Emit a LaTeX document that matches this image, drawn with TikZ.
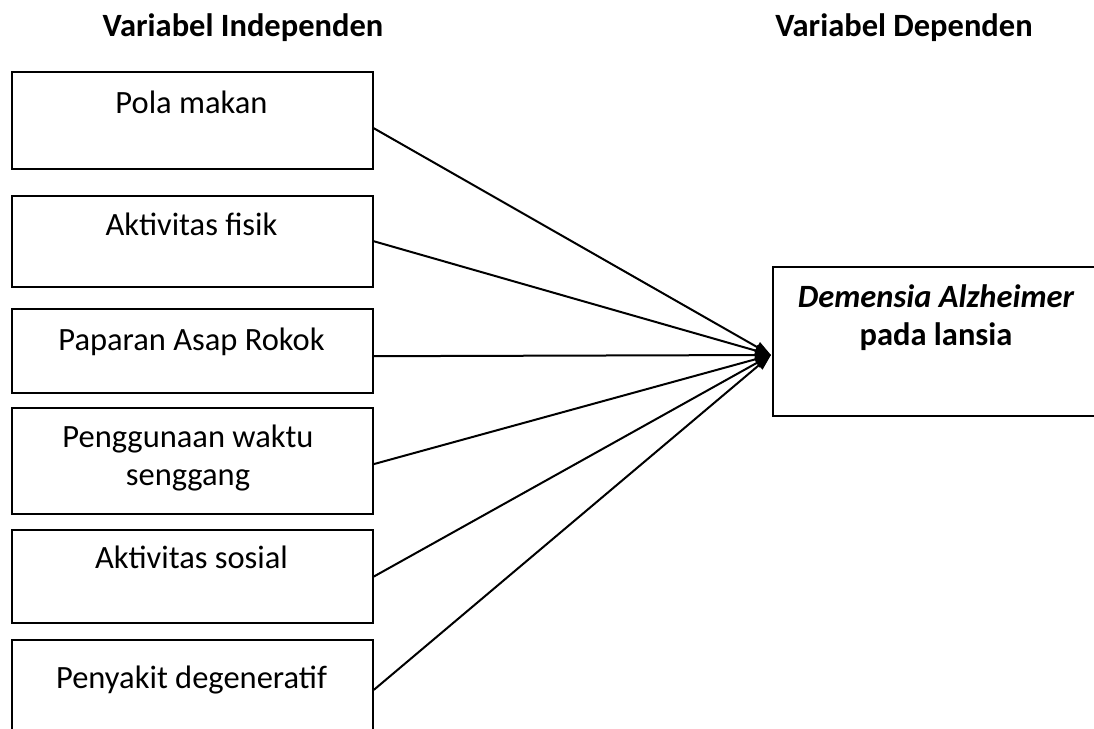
\documentclass[tikz,border=0pt]{standalone}
\usepackage{fontspec}
\setmainfont{Carlito}
\usetikzlibrary{arrows.meta}
\begin{document}
\begin{tikzpicture}[x=1bp,y=-1bp,
  box/.style={draw,line width=1.8bp,minimum width=361bp,inner sep=0pt,anchor=north west},
  lbl/.style={font=\fontsize{32.5bp}{38bp}\selectfont,anchor=base,align=center,inner sep=0pt},
  hdr/.style={lbl,font=\fontsize{32.5bp}{38bp}\selectfont\bfseries},
  conn/.style={line width=2bp,-{Triangle[length=16bp,width=11bp]}}]
\useasboundingbox (0,0) rectangle (1094,729);
\clip (0,0) rectangle (1094,729);
% headers
\node[hdr] (h1) at (243,36.7) {Variabel Independen};
\node[hdr] (h2) at (904,36.7) {Variabel Dependen};
% left boxes
\node[box,minimum height=96.7bp] (b1) at (11,71) {};
\node[box,minimum height=90.7bp] (b2) at (11,195) {};
\node[box,minimum height=84bp] (b3) at (11,308.3) {};
\node[box,minimum height=106bp] (b4) at (11,406.7) {};
\node[box,minimum height=93.3bp] (b5) at (11,529) {};
\node[box,minimum height=100bp] (b6) at (11,639) {};
% labels
\node[lbl] (t1) at (191.5,113.3) {Pola makan};
\node[lbl] (t2) at (191.5,235.7) {Aktivitas fisik};
\node[lbl] (t3) at (191.5,350) {Paparan Asap Rokok};
\node[lbl] (t4) at (188,485) {Penggunaan waktu\\senggang};
\node[lbl] (t5) at (191.5,568.3) {Aktivitas sosial};
\node[lbl] (t6) at (191.5,688.3) {Penyakit degeneratif};
% right box
\node[box,minimum width=321.5bp,minimum height=149.3bp] (r) at (772,265.7) {};
\node[lbl,font=\fontsize{32.5bp}{38bp}\selectfont\bfseries] (rt) at (936,345) {\itshape Demensia Alzheimer\\pada lansia};
% connectors
\coordinate (tip) at (771,355);
\draw[conn] ([yshift=-8bp]b1.east) -- (tip);
\draw[conn] (b2.east) -- (tip);
\draw[conn] ([yshift=-5bp]b3.east) -- (tip);
\draw[conn] ([yshift=-3.5bp]b4.east) -- (tip);
\draw[conn] (b5.east) -- (tip);
\draw[conn] (b6.east) -- (tip);
\end{tikzpicture}
\end{document}
